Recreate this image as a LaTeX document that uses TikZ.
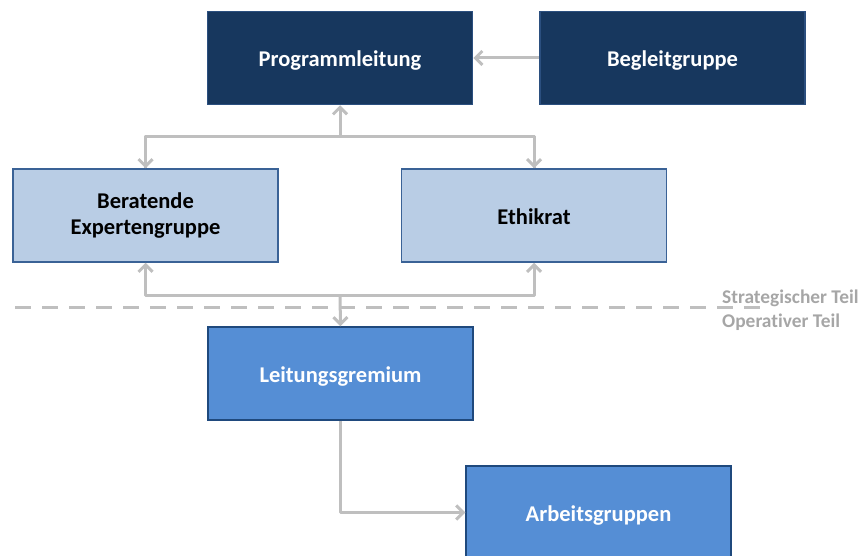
\documentclass[tikz,border=0pt]{standalone}
\usepackage{fontspec}
\setmainfont[Ligatures=NoCommon]{Carlito}
\usetikzlibrary{arrows.meta}
\definecolor{navy}{HTML}{17375E}
\definecolor{navyb}{HTML}{2B4F7F}
\definecolor{lightf}{HTML}{B9CDE5}
\definecolor{lightb}{HTML}{3A6296}
\definecolor{midf}{HTML}{558ED5}
\definecolor{midb}{HTML}{1F497D}
\definecolor{arr}{HTML}{BFBFBF}
\definecolor{lbl}{HTML}{A6A6A6}
\tikzset{
  box/.style={rectangle, minimum width=265pt, minimum height=93pt, line width=1.5pt, font=\fontsize{22.5}{26}\selectfont\bfseries, align=center, inner sep=0pt},
  oneline/.style={text height=18pt, text depth=0pt},
  darkbox/.style={box, oneline, fill=navy, draw=navyb, text=white},
  lightbox/.style={box, fill=lightf, draw=lightb, text=black},
  midbox/.style={box, oneline, fill=midf, draw=midb, text=white},
  con/.style={draw=arr, line width=3pt, line join=round},
  tip/.style={-{Straight Barb[length=7pt,width=14pt,line width=3pt]}},
  lab/.style={text=lbl, font=\fontsize{19.4}{21}\selectfont\bfseries, anchor=west, inner sep=0pt}
}
\begin{document}
\begin{tikzpicture}[x=1pt,y=-1pt]
\useasboundingbox (0,0) rectangle (861,556);
\begin{scope}
\clip (0,0) rectangle (861,556);
\node[darkbox] (pl) at (340,58) {Programmleitung};
\node[darkbox] (bg) at (672.5,58) {Begleitgruppe};
\node[lightbox] (be) at (145.5,215.5) {Beratende\\Expertengruppe};
\node[lightbox, oneline] (et) at (534,215.5) {Ethikrat};
\node[midbox] (lg) at (340.5,373.5) {Leitungsgremium};
\node[midbox] (ag) at (598.5,512.5) {Arbeitsgruppen};

\coordinate (t1) at (340,137);
\coordinate (t2) at (340,295);

\draw[con] (be.north) -- (be.north |- t1) -- (et.north |- t1) -- (et.north);
\draw[con,tip] (t1) -- (be.north |- t1) -- (be.north);
\draw[con,tip] (t1) -- (et.north |- t1) -- (et.north);
\draw[con,tip] (t1) -- (pl.south);

\draw[con,tip] (t2) -- (be.south |- t2) -- (be.south);
\draw[con,tip] (t2) -- (et.south |- t2) -- (et.south);
\draw[con,tip] (t2) -- (lg.north);

\draw[con,tip] (bg.west) -- (pl.east);
\draw[con,tip] (lg.south) -- (lg.south |- ag.west) -- (ag.west);

\coordinate (d1) at (15,307);
\coordinate (d2) at (770,307);
\draw[draw=arr, line width=3pt, dash pattern=on 16pt off 11pt] (d1) -- (d2);
\node[lab, anchor=base west] (st) at (722,303) {Strategischer Teil};
\node[lab, anchor=base west] (op) at (722,327) {Operativer Teil};
\end{scope}
\end{tikzpicture}
\end{document}
